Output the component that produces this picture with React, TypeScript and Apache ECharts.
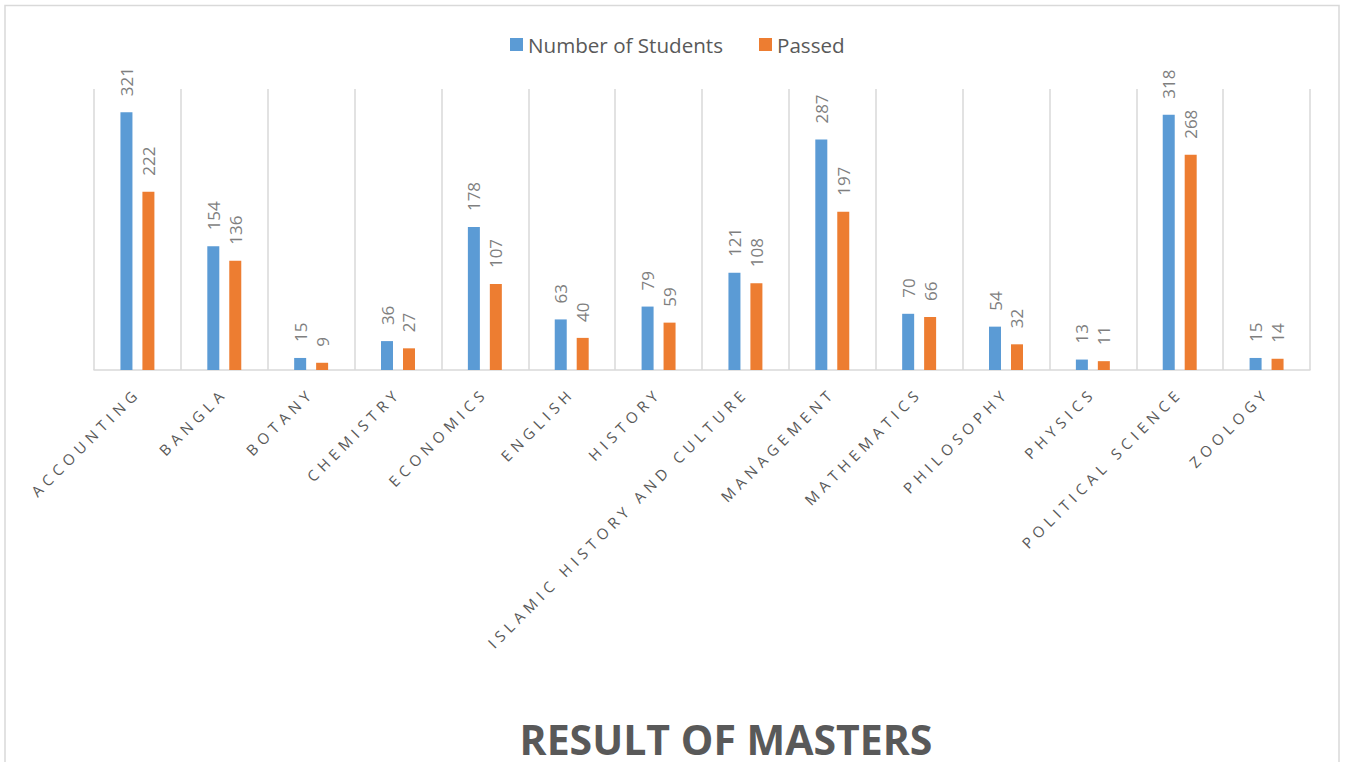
import React, { useEffect, useRef } from "react";
import * as echarts from "echarts";

const categories = [
  "ACCOUNTING",
  "BANGLA",
  "BOTANY",
  "CHEMISTRY",
  "ECONOMICS",
  "ENGLISH",
  "HISTORY",
  "ISLAMIC HISTORY AND CULTURE",
  "MANAGEMENT",
  "MATHEMATICS",
  "PHILOSOPHY",
  "PHYSICS",
  "POLITICAL SCIENCE",
  "ZOOLOGY",
];
const numberOfStudents = [321, 154, 15, 36, 178, 63, 79, 121, 287, 70, 54, 13, 318, 15];
const passed = [222, 136, 9, 27, 107, 40, 59, 108, 197, 66, 32, 11, 268, 14];

const FONT = "'Open Sans', 'Noto Sans', sans-serif";

export default function App() {
  const ref = useRef<HTMLDivElement>(null);
  useEffect(() => {
    if (!ref.current) return;
    const el = ref.current;
    const chart = echarts.init(el, undefined, { renderer: "svg" });
    const barLabel = {
      show: true,
      position: "top",
      rotate: 90,
      align: "left",
      verticalAlign: "middle",
      distance: 16,
      color: "#7f7f7f",
      fontSize: 17,
      fontFamily: FONT,
    };
    const spaceLabels = () => {
      el.querySelectorAll("text").forEach((t) => {
        if (categories.includes((t.textContent || "").trim())) {
          t.setAttribute("letter-spacing", "5");
          (t as SVGTextElement).style.letterSpacing = "5px";
        }
      });
    };
    chart.on("finished", spaceLabels);
    chart.setOption({
      animation: false,
      backgroundColor: "#ffffff",
      title: {
        text: "RESULT OF MASTERS",
        left: 726,
        textAlign: "center",
        top: 721,
        padding: 0,
        textStyle: {
          fontFamily: FONT,
          fontWeight: "bold",
          fontSize: 41,
          lineHeight: 36,
          color: "#595959",
        },
      },
      legend: {
        top: 29,
        left: 505,
        itemWidth: 13,
        itemHeight: 13,
        itemGap: 36,
        icon: "rect",
        textStyle: { fontFamily: FONT, fontSize: 20.6, color: "#595959" },
      },
      graphic: [
        {
          type: "rect",
          shape: { x: 5, y: 5.5, width: 1334, height: 780 },
          style: { fill: "none", stroke: "#d9d9d9", lineWidth: 1.5 },
          silent: true,
        },
      ],
      grid: { left: 94, right: 37, top: 89, bottom: 392 },
      xAxis: {
        type: "category",
        data: categories,
        axisLine: { lineStyle: { color: "#d9d9d9", width: 1.5 } },
        axisTick: { show: false },
        splitLine: { show: true, lineStyle: { color: "#d9d9d9", width: 1.5 } },
        axisLabel: {
          interval: 0,
          rotate: 45,
          margin: 20,
          fontFamily: FONT,
          fontSize: 15,
          color: "#595959",
        },
      },
      yAxis: {
        type: "value",
        min: 0,
        max: 350,
        show: false,
        splitLine: { show: false },
      },
      series: [
        {
          name: "Number of Students",
          type: "bar",
          data: numberOfStudents,
          barWidth: 12,
          barGap: "83%",
          itemStyle: { color: "#5b9bd5" },
          label: barLabel,
        },
        {
          name: "Passed",
          type: "bar",
          data: passed,
          barWidth: 12,
          itemStyle: { color: "#ed7d31" },
          label: barLabel,
        },
      ],
    });
    spaceLabels();
    return () => chart.dispose();
  }, []);
  return (
    <div
      ref={ref}
      style={{ position: "absolute", left: 0, top: 0, width: 1347, height: 762 }}
    />
  );
}
